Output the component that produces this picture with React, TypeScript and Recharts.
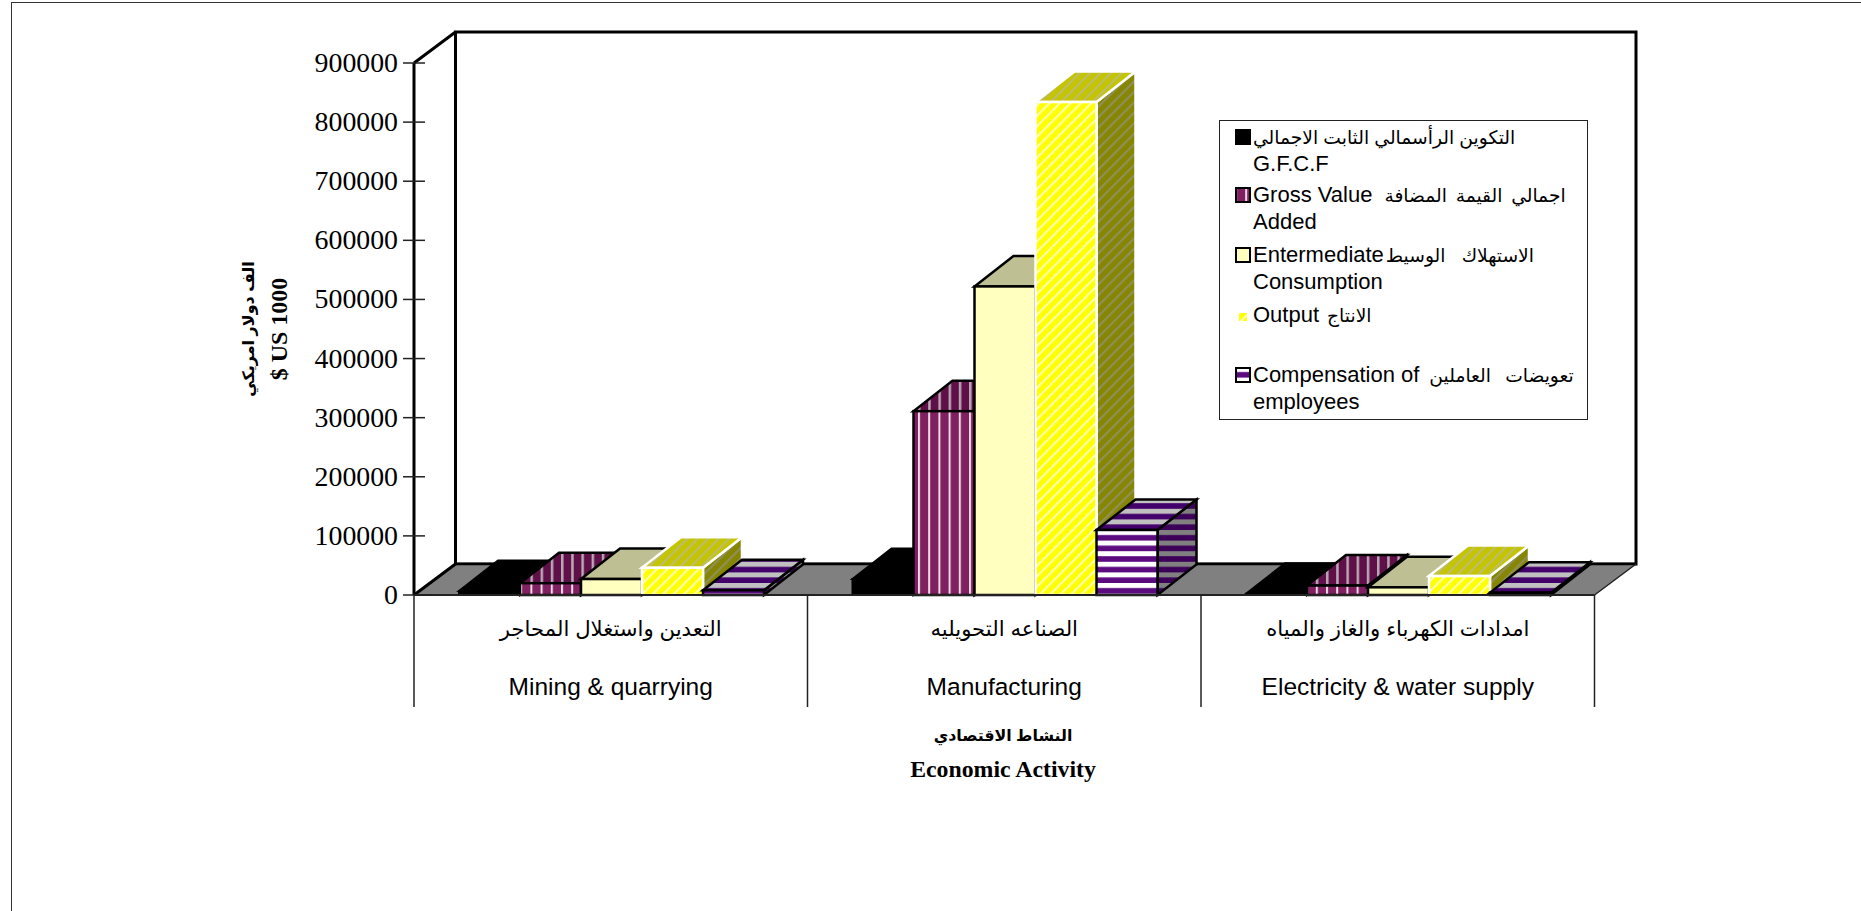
import React from "react";
import { BarChart, Bar, XAxis, YAxis, Legend } from "recharts";

const CATEGORIES_AR = [
  "التعدين واستغلال المحاجر",
  "الصناعه التحويليه",
  "امدادات الكهرباء والغاز والمياه",
];
const CATEGORIES_EN = ["Mining & quarrying", "Manufacturing", "Electricity & water supply"];

const GFCF = [6800, 27000, 2000];
const GROSS_VALUE_ADDED = [20000, 311000, 16000];
const INTERMEDIATE = [27000, 522000, 13000];
const OUTPUT = [46000, 834000, 32000];
const COMPENSATION = [8000, 110000, 4000];

const Y_TICKS = [0, 100000, 200000, 300000, 400000, 500000, 600000, 700000, 800000, 900000];

const LEGEND_LATIN_FIRST = ["", "Gross Value", "Entermediate", "Output", "Compensation of"];
const LEGEND_ARABIC = [
  "التكوين الرأسمالي الثابت الاجمالي",
  "اجمالي القيمة المضافة",
  "الاستهلاك الوسيط",
  "الانتاج",
  "تعويضات العاملين",
];
const LEGEND_SECOND_LINE = ["G.F.C.F", "Added", "Consumption", "", "employees"];

const WIDTH = 1861;
const HEIGHT = 911;
const LEFT = 414;
const RIGHT = 1594.5;
const TOP = 63;
const BOTTOM = 595;
const DEPTH_X = 41.5;
const DEPTH_Y = 31;
const BAR_DX = 39;
const BAR_DY = 30.5;
const BAND = (RIGHT - LEFT) / 3;

const SANS = '"Liberation Sans", "DejaVu Sans", sans-serif';
const SERIF = '"Liberation Serif", "DejaVu Serif", serif';

// per legend row: swatch fill, outline, size, swatch top, text top, arabic gap, word spacing
const SWATCH_FILL = ["#000000", "url(#gvaFront)", "#ffffc0", "url(#outFront)", "url(#compFront)"];
const SWATCH_STROKE = ["#000", "#000", "#000", "none", "#000"];
const SWATCH_SIZE = [16, 16, 16, 10, 16];
const SWATCH_TOP = [8, 66, 126, 188, 246];
const TEXT_TOP = [3, 61, 121, 181, 241];
const ARABIC_GAP = [0, 12, 2, 8, 10];
const ARABIC_WORD_GAP = [0, 3.5, 11, 0, 9];

const tableData = CATEGORIES_EN.map((name, i) => ({
  name,
  gfcf: GFCF[i],
  gva: GROSS_VALUE_ADDED[i],
  ic: INTERMEDIATE[i],
  output: OUTPUT[i],
  comp: COMPENSATION[i],
}));

function stripes(id: string, size: number, bg: string, fg: string, band: number, kind: "v" | "h" | "d") {
  const rot = kind === "d" ? "rotate(45)" : undefined;
  return (
    <pattern
      key={id}
      id={id}
      width={kind === "h" ? 8 : size}
      height={kind === "h" ? size : 8}
      patternUnits="userSpaceOnUse"
      patternTransform={rot}
    >
      <rect width={20} height={20} fill={bg} />
      {kind === "h" ? <rect width={8} height={band} fill={fg} /> : <rect width={band} height={8} fill={fg} />}
    </pattern>
  );
}

function Backdrop() {
  return (
    <g>
      <defs>
        {stripes("gvaFront", 10.2, "#802060", "#efdce9", 2, "v")}
        {stripes("gvaTop", 10.2, "#5f1048", "#b9a8b4", 2.5, "v")}
        {stripes("gvaSide", 10.2, "#5f1048", "#b9a8b4", 2.5, "v")}
        {stripes("outFront", 7.4, "#ffff00", "#ffffa8", 2.2, "d")}
        {stripes("outTop", 7.4, "#c4c400", "#bdbd6a", 2.2, "d")}
        {stripes("outSide", 7.4, "#868600", "#8f8f5a", 2.2, "d")}
        {stripes("compFront", 10.6, "#5c0a80", "#ffffff", 5, "h")}
        {stripes("compTop", 10.6, "#43006b", "#c0c0c0", 5, "h")}
        {stripes("compSide", 10.6, "#3c0058", "#808080", 5, "h")}
      </defs>
      <rect x={LEFT + DEPTH_X} y={TOP - DEPTH_Y} width={RIGHT - LEFT} height={BOTTOM - TOP} fill="#ffffff" stroke="#000" strokeWidth={3} />
      <polygon
        points={`${LEFT},${BOTTOM} ${RIGHT},${BOTTOM} ${RIGHT + DEPTH_X},${BOTTOM - DEPTH_Y} ${LEFT + DEPTH_X},${BOTTOM - DEPTH_Y}`}
        fill="#808080"
      />
      <line x1={LEFT + DEPTH_X} y1={BOTTOM - DEPTH_Y} x2={RIGHT + DEPTH_X} y2={BOTTOM - DEPTH_Y} stroke="#000" strokeWidth={2.5} />
      <line x1={RIGHT} y1={BOTTOM} x2={RIGHT + DEPTH_X} y2={BOTTOM - DEPTH_Y} stroke="#222" strokeWidth={1.5} />
      <line x1={LEFT} y1={TOP} x2={LEFT + DEPTH_X} y2={TOP - DEPTH_Y} stroke="#000" strokeWidth={3} />
      <line x1={LEFT} y1={BOTTOM} x2={LEFT + DEPTH_X} y2={BOTTOM - DEPTH_Y} stroke="#000" strokeWidth={3} />
    </g>
  );
}

function box(front: string, top: string, side: string, stroke: string, sw: number) {
  return (props: any) => {
    const { x, y, width, height } = props;
    const r = x + width;
    const b = y + height;
    return (
      <g>
        <polygon
          points={`${r},${y} ${r + BAR_DX},${y - BAR_DY} ${r + BAR_DX},${b - BAR_DY} ${r},${b}`}
          fill={side}
          stroke={stroke}
          strokeWidth={sw}
        />
        <polygon
          points={`${x},${y} ${r},${y} ${r + BAR_DX},${y - BAR_DY} ${x + BAR_DX},${y - BAR_DY}`}
          fill={top}
          stroke={stroke}
          strokeWidth={sw}
        />
        <rect x={x} y={y} width={width} height={height} fill={front} stroke={stroke} strokeWidth={sw} />
      </g>
    );
  };
}

function YTick({ y, payload }: any) {
  return (
    <g>
      <line x1={LEFT - 11} x2={LEFT + 11} y1={y} y2={y} stroke="#222" strokeWidth={1.5} />
      <text x={398} y={y} dy={9} textAnchor="end" fontFamily={SERIF} fontSize={27.8} fill="#000">
        {payload.value}
      </text>
    </g>
  );
}

function XTick({ x, payload, index }: any) {
  return (
    <g>
      <line x1={x - BAND / 2} x2={x - BAND / 2} y1={BOTTOM} y2={707} stroke="#222" strokeWidth={1.5} />
      {index === CATEGORIES_EN.length - 1 ? (
        <line x1={x + BAND / 2} x2={x + BAND / 2} y1={BOTTOM} y2={707} stroke="#222" strokeWidth={1.5} />
      ) : null}
      <text x={x} y={636} textAnchor="middle" direction="rtl" fontFamily={SANS} fontSize={21.2} fill="#000">
        {CATEGORIES_AR[index]}
      </text>
      <text x={x} y={695} textAnchor="middle" fontFamily={SANS} fontSize={24.5} fill="#000">
        {payload.value}
      </text>
    </g>
  );
}

function XTitle() {
  return (
    <g fontWeight="bold" fill="#000" textAnchor="middle">
      <text x={1003} y={741} direction="rtl" fontFamily={SANS} fontSize={15.8}>
        النشاط الاقتصادي
      </text>
      <text x={1003} y={777} fontFamily={SERIF} fontSize={23.8}>
        Economic Activity
      </text>
    </g>
  );
}

function YTitle() {
  return (
    <g fontWeight="bold" fill="#000" textAnchor="middle">
      <text transform="translate(254,329) rotate(-90)" direction="rtl" fontFamily={SANS} fontSize={16}>
        الف دولار امريكي
      </text>
      <text transform="translate(287,329) rotate(-90)" fontFamily={SERIF} fontSize={24}>
        $ US 1000
      </text>
    </g>
  );
}

function LegendBox() {
  return (
    <div style={{ position: "relative", width: 367, height: 298, border: "1px solid #222", background: "#fff", fontFamily: SANS, color: "#000" }}>
      {LEGEND_ARABIC.map((arabic, i) => {
        const size = SWATCH_SIZE[i];
        return (
          <div key={i}>
            <svg style={{ position: "absolute", left: 15 + (16 - size) / 2, top: SWATCH_TOP[i] + (16 - size) / 2 }} width={size} height={size}>
              <rect x={1} y={1} width={size - 2} height={size - 2} fill={SWATCH_FILL[i]} stroke={SWATCH_STROKE[i]} strokeWidth={2} />
            </svg>
            <div style={{ position: "absolute", left: 33, top: TEXT_TOP[i], fontSize: 22, lineHeight: "26px", whiteSpace: "nowrap" }}>
              <span>{LEGEND_LATIN_FIRST[i]}</span>
              <span dir="rtl" style={{ display: "inline-block", fontSize: 18.7, marginLeft: ARABIC_GAP[i], wordSpacing: ARABIC_WORD_GAP[i] }}>
                {arabic}
              </span>
              <br />
              {LEGEND_SECOND_LINE[i]}
            </div>
          </div>
        );
      })}
    </div>
  );
}

export default function App() {
  return (
    <div style={{ position: "absolute", left: 0, top: 0, width: WIDTH, height: HEIGHT, overflow: "hidden", background: "#fff" }}>
      <div style={{ position: "absolute", left: 11, top: 2, width: WIDTH, height: HEIGHT, borderLeft: "1.5px solid #333", borderTop: "1.5px solid #333" }} />
      <BarChart
        width={WIDTH}
        height={HEIGHT}
        data={tableData}
        margin={{ top: TOP, left: LEFT - 60, right: WIDTH - RIGHT, bottom: HEIGHT - BOTTOM - 30 }}
        barCategoryGap={45}
        barGap={0}
        style={{ position: "absolute", left: 0, top: 0 }}
      >
        <Backdrop />
        <XTitle />
        <YTitle />
        <XAxis dataKey="name" height={30} interval={0} tickLine={false} axisLine={{ stroke: "#222", strokeWidth: 2 }} tick={<XTick />} />
        <YAxis width={60} domain={[0, 900000]} ticks={Y_TICKS} interval={0} tickLine={false} axisLine={{ stroke: "#000", strokeWidth: 3 }} tick={<YTick />} />
        <Bar dataKey="gfcf" fill="#000000" isAnimationActive={false} shape={box("#000", "#000", "#000", "#000", 2)} />
        <Bar dataKey="gva" fill="#802060" isAnimationActive={false} shape={box("url(#gvaFront)", "url(#gvaTop)", "url(#gvaSide)", "#000", 2.5)} />
        <Bar dataKey="ic" fill="#ffffc0" isAnimationActive={false} shape={box("#ffffc0", "#bfbf94", "#808060", "#000", 2.5)} />
        <Bar dataKey="output" fill="#ffff00" isAnimationActive={false} shape={box("url(#outFront)", "url(#outTop)", "url(#outSide)", "#fff", 2.5)} />
        <Bar dataKey="comp" fill="#5c0a80" isAnimationActive={false} shape={box("url(#compFront)", "url(#compTop)", "url(#compSide)", "#000", 2.5)} />
        <Legend
          layout="horizontal"
          verticalAlign="middle"
          align="center"
          content={<LegendBox />}
          wrapperStyle={{ left: 1219, top: 120, width: 369, height: 300, bottom: "auto", right: "auto" }}
        />
      </BarChart>
    </div>
  );
}
